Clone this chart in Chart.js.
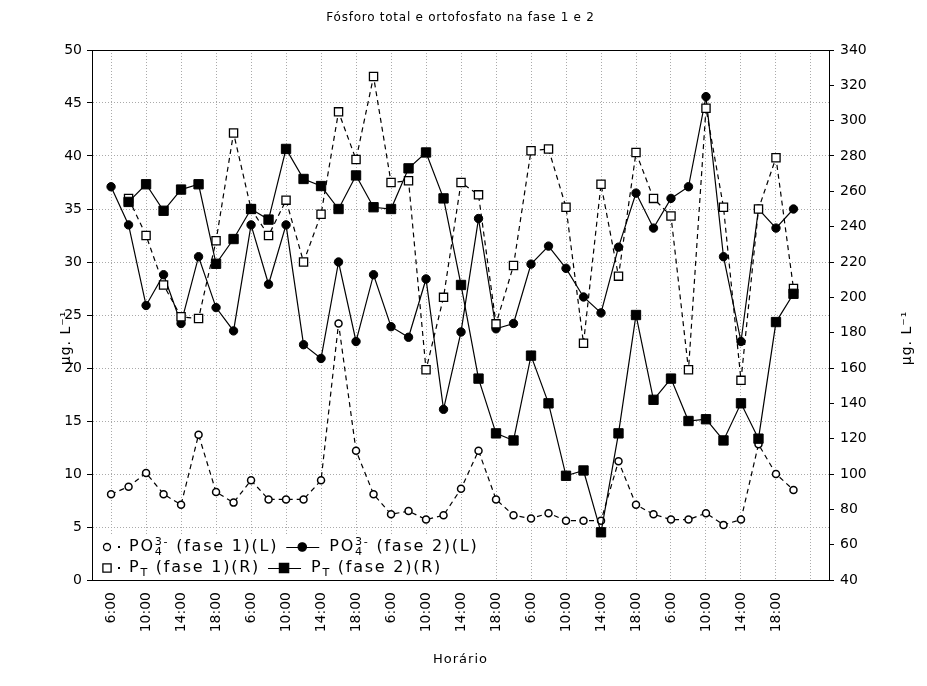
<!DOCTYPE html>
<html lang="pt">
<head>
<meta charset="UTF-8">
<title>Fósforo total e ortofosfato na fase 1 e 2</title>
<script src="https://cdn.jsdelivr.net/npm/chart.js"></script>
<style>
  html, body { margin: 0; padding: 0; background: #fff; }
  canvas { display: block; }
</style>
</head>
<body>
<canvas id="chart" width="927" height="686"></canvas>
<script>
// sampling times, every 2 h, 5 days
const hours = ['6:00', '8:00', '10:00', '12:00', '14:00', '16:00', '18:00', '20:00'];
const times = [].concat(hours, hours, hours, hours, hours);

// left axis (µg/L)
const po4Fase1 = [8.1, 8.8, 10.1, 8.1, 7.1, 13.7, 8.3, 7.3, 9.4, 7.6, 7.6, 7.6, 9.4, 24.2, 12.2, 8.1, 6.2, 6.5, 5.7, 6.1,
                  8.6, 12.2, 7.6, 6.1, 5.8, 6.3, 5.6, 5.6, 5.6, 11.2, 7.1, 6.2, 5.7, 5.7, 6.3, 5.2, 5.7, 12.8, 10.0, 8.5];
const po4Fase2 = [37.1, 33.5, 25.9, 28.8, 24.2, 30.5, 25.7, 23.5, 33.5, 27.9, 33.5, 22.2, 20.9, 30.0, 22.5, 28.8, 23.9, 22.9, 28.4, 16.1,
                  23.4, 34.1, 23.7, 24.2, 29.8, 31.5, 29.4, 26.7, 25.2, 31.4, 36.5, 33.2, 36.0, 37.1, 45.6, 30.5, 22.5, 35.0, 33.2, 35.0];
// right axis (µg/L)
const ptFase1 = [null, 256, 235, 207, 189, 188, 232, 293, 250, 235, 255, 220, 247, 305, 278, 325, 265, 266, 159, 200,
                 265, 258, 185, 218, 283, 284, 251, 174, 264, 212, 282, 256, 246, 159, 307, 251, 153, 250, 279, 205];
const ptFase2 = [null, 254, 264, 249, 261, 264, 219, 233, 250, 244, 284, 267, 263, 250, 269, 251, 250, 273, 282, 256,
                 207, 154, 123, 119, 167, 140, 99, 102, 67, 123, 190, 142, 154, 130, 131, 119, 140, 120, 186, 202];

const legendLabels = ['PO_{4}^{3-} (fase 1)(L)', 'PO_{4}^{3-} (fase 2)(L)', 'P_{T} (fase 1)(R)', 'P_{T} (fase 2)(R)'];
const titleText = 'Fósforo total e ortofosfato na fase 1 e 2';
const xTitle = 'Horário';
const yTitle = 'μg. L⁻¹';

const FONT = '"DejaVu Sans", Verdana, sans-serif';
const gridTicks = [0, 2, 4, 6, 8, 10, 12, 14, 16, 18, 20, 22, 24, 26, 28, 30, 32, 34, 36, 38, 40];

function toPoints(values) {
  return values.map((v, i) => ({ x: i, y: v }));
}

// text with _{sub} and ^{sup}; a sup right after a sub is stacked over it
function drawRich(ctx, str, x, y, size) {
  const parts = str.split(/(_\{[^}]*\}|\^\{[^}]*\})/).filter(Boolean);
  let subStart = null, subEnd = null;
  parts.forEach(p => {
    let t = p, dy = 0, fs = size;
    if (p.startsWith('_{')) { t = p.slice(2, -1); dy = 5; fs = size * 0.7; }
    else if (p.startsWith('^{')) { t = p.slice(2, -1); dy = -5; fs = size * 0.7; }
    ctx.font = fs + 'px ' + FONT;
    let drawX = x;
    if (p.startsWith('^{') && subStart !== null) drawX = subStart;
    ctx.fillText(t, drawX, y + dy);
    const end = drawX + ctx.measureText(t).width;
    if (p.startsWith('_{')) { subStart = drawX; subEnd = end; x = end; }
    else if (p.startsWith('^{') && subStart !== null) { x = Math.max(end, subEnd); subStart = null; }
    else { x = end; subStart = null; }
  });
  return x;
}

function drawMarker(ctx, ds, x, y) {
  Chart.helpers.drawPoint(ctx, {
    pointStyle: ds.pointStyle, radius: ds.pointRadius, borderWidth: ds.pointBorderWidth
  }, x, y);
}

const decorPlugin = {
  id: 'decor',
  afterDatasetsDraw(chart) {
    const ctx = chart.ctx, a = chart.chartArea;
    ctx.save();
    // frame
    ctx.strokeStyle = '#000';
    ctx.lineWidth = 1;
    ctx.strokeRect(Math.round(a.left) + 0.5, Math.round(a.top) + 0.5, Math.round(a.right - a.left), Math.round(a.bottom - a.top));

    // legend
    const dss = chart.data.datasets;
    ctx.fillStyle = '#fff';
    ctx.fillRect(a.left + 2, 535, 400, 44);
    ctx.textBaseline = 'middle';
    ctx.textAlign = 'left';
    ctx.letterSpacing = '1.75px';
    const rows = [[0, 1, 547], [2, 3, 568]];
    rows.forEach(([d1, d2, y]) => {
      const s1 = dss[d1], s2 = dss[d2];
      ctx.strokeStyle = '#000';
      ctx.lineWidth = 1.3;
      ctx.fillStyle = s1.pointBackgroundColor;
      drawMarker(ctx, s1, a.left + 15, y);
      ctx.fillStyle = '#000';
      ctx.fillRect(a.left + 26, y - 1, 2, 2);
      let x = drawRich(ctx, s1.label, a.left + 37, y, 16);
      x += 8;
      ctx.beginPath();
      ctx.moveTo(x, y + 0.5);
      ctx.lineTo(x + 33, y + 0.5);
      ctx.lineWidth = 1.2;
      ctx.stroke();
      ctx.fillStyle = s2.pointBackgroundColor;
      drawMarker(ctx, s2, x + 16, y);
      ctx.fillStyle = '#000';
      drawRich(ctx, s2.label, x + 43, y, 16);
    });

    // titles
    ctx.fillStyle = '#000';
    ctx.textAlign = 'center';
    ctx.font = '12px ' + FONT;
    ctx.letterSpacing = '0.75px';
    ctx.fillText(titleText, (a.left + a.right) / 2, 18);
    ctx.font = '13px ' + FONT;
    ctx.letterSpacing = '1px';
    ctx.fillText(xTitle, (a.left + a.right) / 2, 660);
    [66, 907].forEach(tx => {
      ctx.save();
      ctx.translate(tx, 338);
      ctx.rotate(-Math.PI / 2);
      ctx.font = '14px ' + FONT;
      ctx.fillText(yTitle, 0, 0);
      ctx.restore();
    });
    ctx.restore();
  }
};

const lineBase = { borderColor: '#000', borderWidth: 1.2, tension: 0, pointBorderColor: '#000', spanGaps: false };

new Chart(document.getElementById('chart'), {
  type: 'line',
  data: {
    datasets: [
      Object.assign({}, lineBase, {
        label: legendLabels[0], data: toPoints(po4Fase1), yAxisID: 'yL', order: 3,
        borderDash: [5, 4], pointStyle: 'circle', pointRadius: 3.5, pointBorderWidth: 1.5,
        pointBackgroundColor: '#fff'
      }),
      Object.assign({}, lineBase, {
        label: legendLabels[1], data: toPoints(po4Fase2), yAxisID: 'yL', order: 2,
        pointStyle: 'circle', pointRadius: 4.2, pointBorderWidth: 1,
        pointBackgroundColor: '#000'
      }),
      Object.assign({}, lineBase, {
        label: legendLabels[2], data: toPoints(ptFase1), yAxisID: 'yR', order: 1,
        borderDash: [5, 4], pointStyle: 'rect', pointRadius: 5.8, pointBorderWidth: 1.3,
        pointBackgroundColor: '#fff'
      }),
      Object.assign({}, lineBase, {
        label: legendLabels[3], data: toPoints(ptFase2), yAxisID: 'yR', order: 0,
        pointStyle: 'rect', pointRadius: 6.6, pointBorderWidth: 1,
        pointBackgroundColor: '#000'
      })
    ]
  },
  options: {
    responsive: false,
    animation: false,
    devicePixelRatio: 1,
    layout: { padding: { top: 50, left: 0, right: 0, bottom: 0 } },
    plugins: { legend: { display: false }, tooltip: { enabled: false }, title: { display: false } },
    scales: {
      x: {
        type: 'linear',
        min: -1.09,
        max: 41.03,
        afterBuildTicks: s => { s.ticks = gridTicks.map(v => ({ value: v })); },
        afterFit: s => { s.height = 106; },
        ticks: {
          autoSkip: false, minRotation: 90, maxRotation: 90, padding: 12,
          color: '#000', font: { family: FONT, size: 14 },
          callback: v => times[v] || ''
        },
        grid: { color: '#aaa', drawTicks: false },
        border: { color: '#000', dash: [1, 2] }
      },
      yL: {
        position: 'left',
        min: 0, max: 50,
        afterFit: s => { s.width = 92; },
        ticks: { stepSize: 5, padding: 5, color: '#000', font: { family: FONT, size: 14 } },
        grid: { color: '#aaa', tickLength: 5, tickColor: '#000' },
        border: { color: '#000', dash: [1, 2] }
      },
      yR: {
        position: 'right',
        min: 40, max: 340,
        afterFit: s => { s.width = 98; },
        ticks: { stepSize: 20, padding: 6, color: '#000', font: { family: FONT, size: 14 } },
        grid: { drawOnChartArea: false, tickLength: 5, tickColor: '#000' },
        border: { color: '#000' }
      }
    }
  },
  plugins: [decorPlugin]
});
</script>
</body>
</html>
